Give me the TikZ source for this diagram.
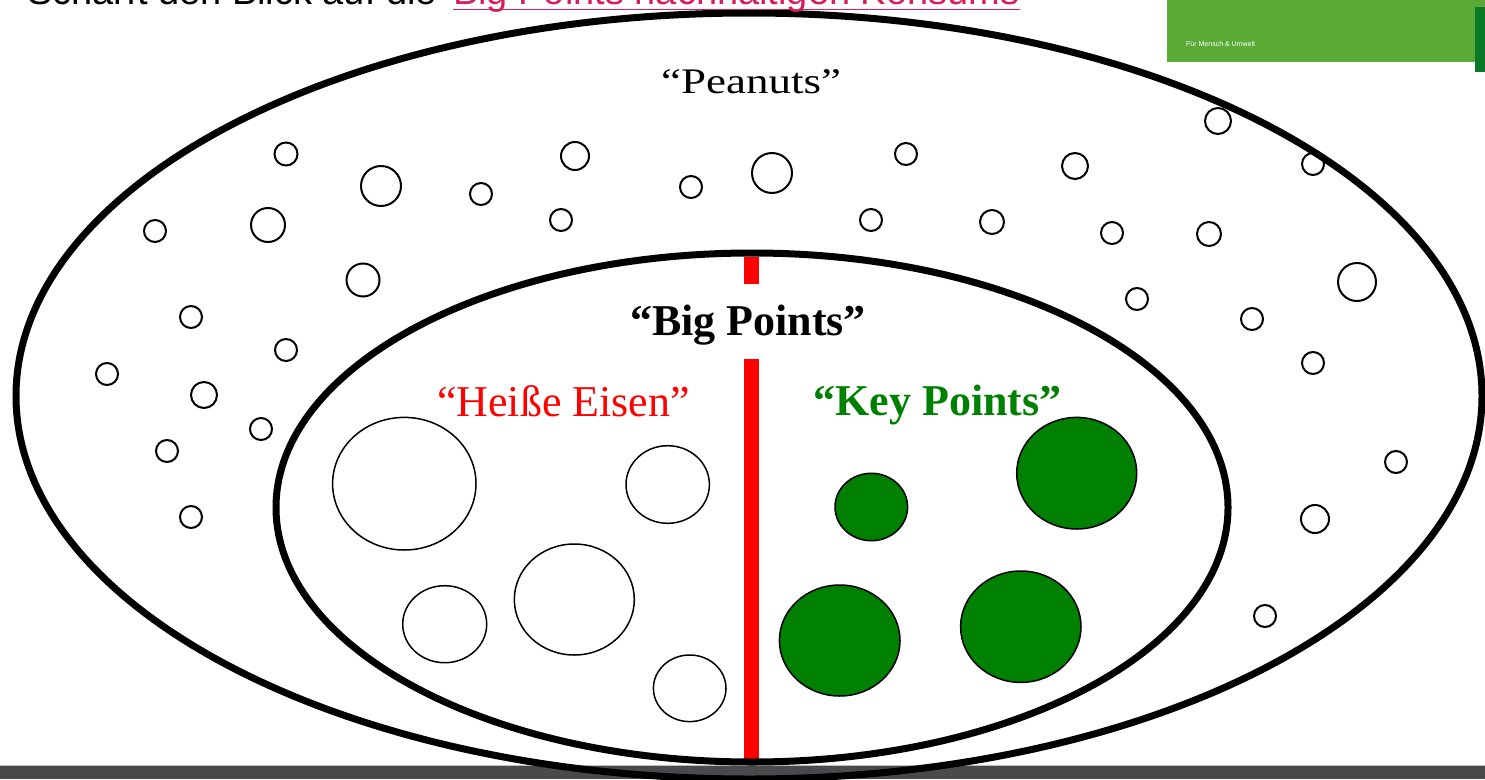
\documentclass[tikz,border=0pt]{standalone}
\usepackage{fontspec}
\setmainfont{Liberation Serif}
\newfontfamily\hdrfont{Liberation Sans}
\newfontfamily\widefont[FakeStretch=1.25]{Liberation Serif}
\definecolor{kgreen}{RGB}{0,128,0}
\definecolor{hpink}{RGB}{214,30,90}
\definecolor{boxgreen}{RGB}{92,170,54}
\definecolor{darkstrip}{RGB}{10,122,40}
\definecolor{barcol}{RGB}{74,74,76}
\definecolor{barline}{RGB}{190,190,190}
\definecolor{hotred}{RGB}{255,0,0}
\begin{document}
\begin{tikzpicture}[x=1pt,y=-1pt,
  ring/.style={line width=7pt},
  dot/.style={line width=2pt},
  wcirc/.style={line width=1.5pt},
  gcirc/.style={line width=1.5pt, fill=kgreen},
  redbar/.style={hotred, line width=15pt},
  lbl/.style={inner sep=0pt, anchor=base},
  bigfont/.style={font=\fontsize{44}{50}\selectfont},
  bigbold/.style={font=\fontsize{44}{50}\selectfont\bfseries}]
\useasboundingbox (0,0) rectangle (1485,779);
\clip (0,0) rectangle (1485,779);
\fill[white] (0,0) rectangle (1485,779);
% bottom bar
\fill[barline] (0,764.5) rectangle (1485,766);
\fill[barcol] (0,766) rectangle (1485,779);
% green box top right
\fill[boxgreen] (1167,0) rectangle (1485,62);
\fill[darkstrip] (1475,7) rectangle (1485,72);
\node[inner sep=0pt, anchor=west, text=white, font=\hdrfont\fontsize{7}{8}\selectfont] (claim) at (1186,44) {Für Mensch \& Umwelt};
% outer ellipse
\draw[ring] (749,396) ellipse [x radius=733pt, y radius=383pt];
% header (cut off at top)
\node[lbl, anchor=base west, font=\hdrfont\fontsize{38}{44}\selectfont] (hdr) at (27,5) {Schärft den Blick auf die};
\node[lbl, anchor=base west, text=hpink, font=\hdrfont\fontsize{38}{44}\selectfont] (hdrlink) at (453,5) {Big Points nachhaltigen Konsums};
\draw[hpink, line width=1.8pt] ([yshift=-4.5pt]hdrlink.base west) -- ([yshift=-4.5pt]hdrlink.base east);
% small peanut circles
\foreach \x/\y/\r in {286/154/11.5, 381/186/20, 481/194/11, 575/156/14, 691/187/11,
  772/173/20, 906/154/11, 1075/166/13, 1218/121/13, 1313/164/11,
  155/231/11, 268/225/17, 561/220/11, 871/220/11, 992/222/12,
  1112/233/11, 1209/234/12, 363/280/16.5, 1357/282/19, 1137/299/11,
  1252/319/11, 191/317/11, 286/350/11, 1313/363/11, 107/374/11,
  204/395/13, 261/429/11, 167/451/11, 1396/462/11, 191/517/11,
  1315/519/14, 1265/616/11}
  \draw[dot] (\x,\y) circle [radius=\r pt];
% red divider
\coordinate (rtopA) at (751,257);
\coordinate (rtopB) at (751,284);
\coordinate (rbotA) at (751,359);
\coordinate (rbotB) at (751,760);
\draw[redbar] (rtopA) -- (rtopB);
\draw[redbar] (rbotA) -- (rbotB);
% inner ellipse
\draw[ring] (752,507.5) ellipse [x radius=476pt, y radius=254.5pt];
% hot iron circles
\draw[wcirc] (404.3,483.7) ellipse [x radius=71.7pt, y radius=66.3pt];
\draw[wcirc] (667.7,484.5) ellipse [x radius=41.7pt, y radius=38.8pt];
\draw[wcirc] (574.3,599.5) ellipse [x radius=60pt, y radius=55.5pt];
\draw[wcirc] (444.7,624.2) ellipse [x radius=42pt, y radius=38.5pt];
\draw[wcirc] (689.7,688.3) ellipse [x radius=36.3pt, y radius=33.3pt];
% key point circles
\draw[gcirc] (871.3,507) ellipse [x radius=36.3pt, y radius=33.7pt];
\draw[gcirc] (1076.7,473.2) ellipse [x radius=60pt, y radius=55.8pt];
\draw[gcirc] (839.7,640.5) ellipse [x radius=60.3pt, y radius=55.5pt];
\draw[gcirc] (1020.8,626.7) ellipse [x radius=60.2pt, y radius=55.7pt];
% labels
\node[lbl, font=\widefont\fontsize{36}{40}\selectfont] (peanuts) at (751,93) {“Peanuts”};
\node[lbl, bigbold] (bigpoints) at (748,335) {“Big Points”};
\node[lbl, bigfont, text=hotred] (heisse) at (563.5,416) {“Heiße Eisen”};
\node[lbl, bigbold, text=kgreen] (keypoints) at (937.5,415) {“Key Points”};
\end{tikzpicture}
\end{document}
